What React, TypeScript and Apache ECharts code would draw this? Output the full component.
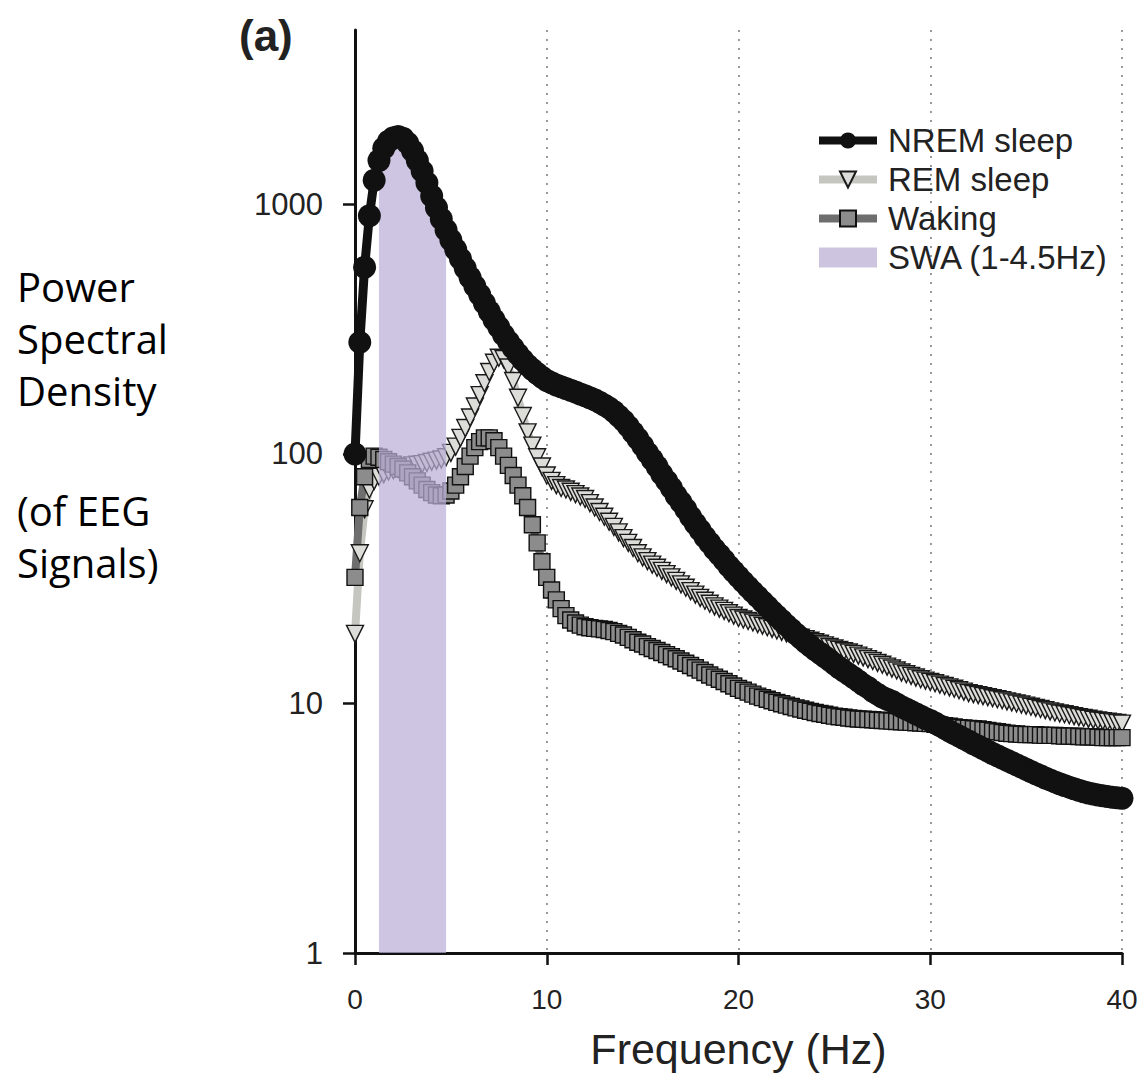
import React, { useEffect, useRef } from 'react';
import * as echarts from 'echarts';

// Frequency bins are 0.25 Hz apart, from 0 to 40 Hz (161 bins)
const FREQ_STEP = 0.25;

// Power spectral density, one row per Hz (4 bins each)
const NREM = [
  100, 280, 560, 900,
  1250, 1500, 1680, 1790,
  1850, 1870, 1840, 1760,
  1640, 1500, 1360, 1220,
  1080, 970, 875, 790,
  720, 660, 605, 555,
  510, 470, 435, 402,
  372, 345, 322, 300,
  282, 266, 251, 238,
  227, 218, 210, 203,
  197, 193, 189, 186,
  183, 180, 177, 174,
  171, 168, 165, 161,
  157, 153, 148, 142,
  136, 129, 122, 115,
  108, 101, 95, 89,
  83, 78, 73, 68,
  64, 60, 56, 52.5,
  49.5, 46.5, 44, 41.5,
  39.5, 37.5, 35.5, 33.8,
  32.2, 30.7, 29.3, 28,
  26.8, 25.6, 24.5, 23.4,
  22.4, 21.5, 20.6, 19.8,
  19.0, 18.3, 17.6, 17.0,
  16.4, 15.9, 15.4, 14.9,
  14.4, 13.9, 13.5, 13.1,
  12.7, 12.3, 11.9, 11.6,
  11.2, 10.9, 10.6, 10.4,
  10.2, 9.95, 9.7, 9.5,
  9.3, 9.1, 8.9, 8.7,
  8.55, 8.35, 8.15, 7.95,
  7.75, 7.57, 7.4, 7.23,
  7.07, 6.9, 6.75, 6.6,
  6.45, 6.3, 6.17, 6.04,
  5.92, 5.8, 5.68, 5.56,
  5.45, 5.34, 5.23, 5.13,
  5.03, 4.94, 4.85, 4.77,
  4.69, 4.62, 4.55, 4.49,
  4.43, 4.38, 4.34, 4.3,
  4.27, 4.24, 4.21, 4.19,
  4.17,
];

const REM = [
  19, 40, 60, 72,
  78, 81, 83, 85,
  86, 87, 88, 89,
  90, 90.5, 91, 92,
  93, 94, 95, 97,
  101, 107, 116, 127,
  140, 155, 172, 192,
  213, 232, 243, 240,
  222, 196, 168, 142,
  122, 108, 97, 89,
  82, 78, 75, 73,
  72, 70.5, 69, 67.5,
  66, 63.5, 61, 58.5,
  56, 53.5, 51, 48.5,
  46, 44, 42, 40,
  38.5, 37.2, 36, 35,
  34, 33, 32, 31,
  30, 29.1, 28.2, 27.3,
  26.5, 25.8, 25.1, 24.5,
  24, 23.5, 23, 22.5,
  22, 21.7, 21.4, 21.1,
  20.8, 20.5, 20.2, 19.9,
  19.6, 19.35, 19.1, 18.85,
  18.6, 18.35, 18.1, 17.85,
  17.6, 17.35, 17.1, 16.85,
  16.6, 16.4, 16.2, 16.0,
  15.8, 15.55, 15.3, 15.05,
  14.8, 14.55, 14.3, 14.05,
  13.8, 13.55, 13.3, 13.1,
  12.9, 12.7, 12.5, 12.35,
  12.2, 12.05, 11.9, 11.75,
  11.6, 11.45, 11.3, 11.15,
  11.0, 10.9, 10.8, 10.7,
  10.6, 10.5, 10.4, 10.3,
  10.2, 10.1, 10.0, 9.9,
  9.8, 9.7, 9.6, 9.5,
  9.4, 9.3, 9.2, 9.12,
  9.05, 8.97, 8.9, 8.82,
  8.75, 8.68, 8.6, 8.55,
  8.5, 8.45, 8.4, 8.35,
  8.3,
];

const WAKING = [
  32, 61, 81, 95,
  98, 97, 95, 93,
  91, 89, 87, 84,
  81, 78, 75, 72,
  70, 68.5, 68, 68.5,
  71, 75, 81, 89,
  98, 106, 112, 116,
  116, 113, 106, 98,
  90, 82, 75, 68,
  61, 52, 44, 37,
  32, 28.5, 26, 24,
  22.5, 21.6, 21, 20.6,
  20.3, 20.1, 20, 19.9,
  19.8, 19.6, 19.4, 19.1,
  18.8, 18.4, 18, 17.6,
  17.3, 16.9, 16.6, 16.3,
  16.0, 15.7, 15.4, 15.1,
  14.8, 14.5, 14.2, 13.9,
  13.6, 13.3, 13.0, 12.75,
  12.5, 12.25, 12.0, 11.75,
  11.5, 11.3, 11.1, 10.9,
  10.7, 10.55, 10.4, 10.25,
  10.1, 9.97, 9.85, 9.72,
  9.6, 9.5, 9.4, 9.3,
  9.2, 9.12, 9.05, 8.97,
  8.9, 8.85, 8.8, 8.75,
  8.7, 8.67, 8.65, 8.62,
  8.6, 8.57, 8.55, 8.52,
  8.5, 8.47, 8.45, 8.42,
  8.4, 8.37, 8.35, 8.32,
  8.3, 8.25, 8.2, 8.15,
  8.1, 8.05, 8.0, 7.97,
  7.95, 7.92, 7.9, 7.85,
  7.8, 7.75, 7.7, 7.65,
  7.6, 7.57, 7.55, 7.52,
  7.5, 7.5, 7.5, 7.47,
  7.45, 7.45, 7.45, 7.42,
  7.4, 7.4, 7.4, 7.37,
  7.35, 7.35, 7.35, 7.32,
  7.3, 7.3, 7.3, 7.3,
  7.3,
];

// Shaded slow-wave-activity band, as drawn (Hz)
const SWA_BAND = [1.25, 4.75];

const SERIES_NAMES = ['NREM sleep', 'REM sleep', 'Waking', 'SWA (1-4.5Hz)'];
const X_TICKS = [0, 10, 20, 30, 40];
const Y_TICKS = [1, 10, 100, 1000];
const Y_LABEL_LINES = ['Power', 'Spectral', 'Density', '(of EEG', 'Signals)'];
const PANEL_LABEL = '(a)';
const X_TITLE = 'Frequency (Hz)';

const toPairs = (values: number[]) => values.map((v, i) => [i * FREQ_STEP, v]);

export default function App() {
  const ref = useRef<HTMLDivElement>(null);

  useEffect(() => {
    if (!ref.current) return;
    const chart = echarts.init(ref.current, undefined, { renderer: 'svg' });

    const nremPairs = toPairs(NREM);
    const swaPairs = nremPairs.filter(
      (p) => p[0] >= SWA_BAND[0] - 1e-9 && p[0] <= SWA_BAND[1] + 1e-9
    );

    const labelYs = [286, 338, 390, 510, 562];
    const font = 'Liberation Sans, Arial, sans-serif';
    const swaColor = 'rgb(186,175,214)';

    const c = {
      nrem: '#111111',
      remLine: '#c6c6c0',
      remFill: '#dcdcd8',
      wakeLine: '#6e6e6e',
      wakeFill: '#8c8c8c',
    };

    const option: any = {
      animation: false,
      backgroundColor: '#ffffff',
      textStyle: { fontFamily: font },
      grid: {
        left: 355,
        right: 22,
        top: 30,
        bottom: 122,
        containLabel: false,
        outerBoundsMode: 'none',
      },
      legend: {
        orient: 'vertical',
        left: 815,
        top: 124,
        padding: 0,
        itemWidth: 58,
        itemHeight: 20,
        itemGap: 6,
        selectedMode: false,
        textStyle: { fontSize: 33, color: '#222', fontFamily: font, padding: [0, 0, 0, 6] },
        data: [
          { name: SERIES_NAMES[0], lineStyle: { width: 8, color: c.nrem } },
          { name: SERIES_NAMES[1], lineStyle: { width: 8, color: c.remLine } },
          { name: SERIES_NAMES[2], lineStyle: { width: 8, color: c.wakeLine } },
          { name: SERIES_NAMES[3], icon: 'rect', itemStyle: { color: 'rgb(205,197,224)', opacity: 1, borderWidth: 0 } },
        ],
      },
      xAxis: {
        type: 'value',
        min: X_TICKS[0],
        max: X_TICKS[X_TICKS.length - 1],
        interval: 10,
        name: X_TITLE,
        nameLocation: 'middle',
        nameGap: 74,
        nameTextStyle: { fontSize: 43, lineHeight: 44, color: '#222', fontFamily: font },
        axisLine: { onZero: false, lineStyle: { color: '#111', width: 3 } },
        axisTick: { length: 12, lineStyle: { color: '#111', width: 2.5 } },
        axisLabel: { margin: 32, fontSize: 28, color: '#222', fontFamily: font },
        splitLine: { show: true, lineStyle: { type: [2, 7], color: '#9a9a9a', width: 2 } },
      },
      yAxis: {
        type: 'log',
        logBase: 10,
        min: 1,
        max: 5000,
        axisLine: { show: true, lineStyle: { color: '#111', width: 3 } },
        axisTick: { show: true, length: 12, lineStyle: { color: '#111', width: 2.5 }, customValues: Y_TICKS },
        axisLabel: {
          customValues: Y_TICKS,
          margin: 32,
          fontSize: 31,
          color: '#222',
          fontFamily: font,
          formatter: (v: number) => String(Math.round(v)),
        },
        splitLine: { show: false },
      },
      series: [
        {
          name: SERIES_NAMES[1],
          type: 'line',
          z: 2,
          data: toPairs(REM),
          symbol: 'triangle',
          symbolRotate: 180,
          symbolSize: 17,
          lineStyle: { color: c.remLine, width: 8 },
          itemStyle: { color: c.remFill, borderColor: '#1a1a1a', borderWidth: 1.4 },
        },
        {
          name: SERIES_NAMES[2],
          type: 'line',
          z: 2,
          data: toPairs(WAKING),
          symbol: 'rect',
          symbolSize: 16,
          lineStyle: { color: c.wakeLine, width: 8 },
          itemStyle: { color: c.wakeFill, borderColor: '#111', borderWidth: 1.4 },
        },
        {
          name: SERIES_NAMES[3],
          type: 'line',
          z: 3,
          data: swaPairs,
          symbol: 'none',
          lineStyle: { width: 0, opacity: 0 },
          itemStyle: { color: swaColor },
          areaStyle: { color: swaColor, opacity: 0.72, origin: 1 },
        },
        {
          name: SERIES_NAMES[0],
          type: 'line',
          z: 4,
          data: nremPairs,
          symbol: 'circle',
          symbolSize: 23,
          lineStyle: { color: c.nrem, width: 9 },
          itemStyle: { color: c.nrem },
        },
      ],
      graphic: [
        {
          type: 'text',
          x: 239,
          y: 13,
          style: { text: PANEL_LABEL, font: 'bold 44px "Liberation Sans", Arial, sans-serif', fill: '#222' },
        },
        ...Y_LABEL_LINES.map((t, i) => ({
          type: 'text',
          x: 17,
          y: labelYs[i],
          style: {
            text: t,
            font: '40px "Open Sans", "Noto Sans", sans-serif',
            fill: '#000',
            verticalAlign: 'middle',
            align: 'left',
          },
        })),
      ],
    };

    chart.setOption(option);
    return () => chart.dispose();
  }, []);

  return (
    <div
      ref={ref}
      style={{ position: 'fixed', left: 0, top: 0, width: 1144, height: 1075, background: '#fff' }}
    />
  );
}
